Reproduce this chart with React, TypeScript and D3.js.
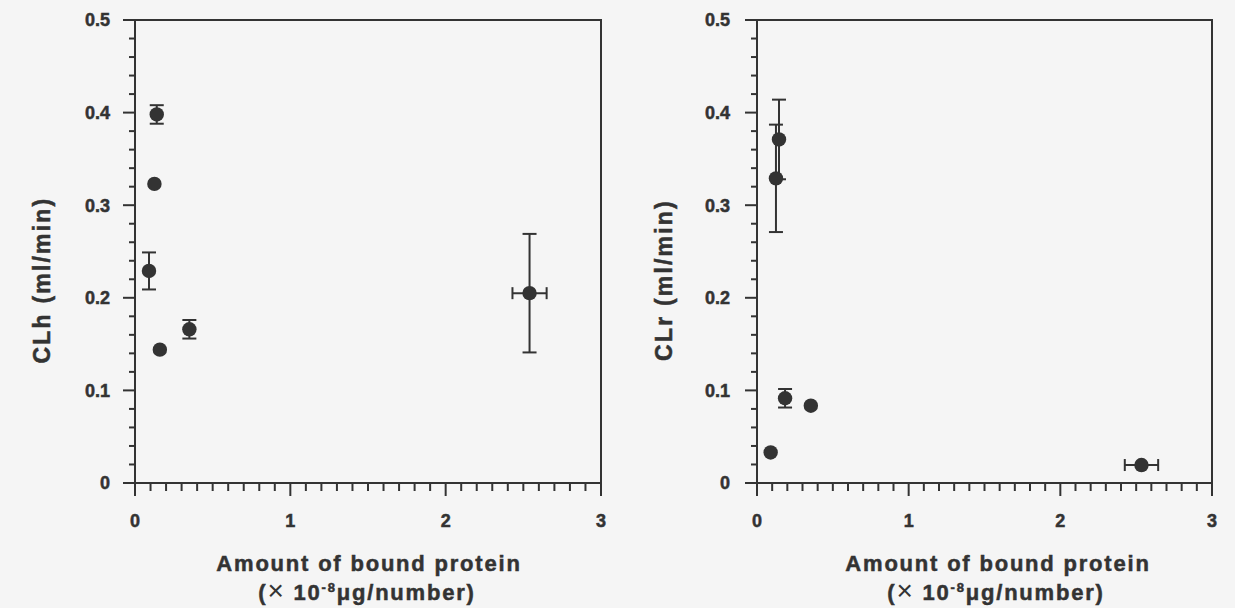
import React from "react";
import * as d3 from "d3";

// ---- Data ----
const xTickLabels = ["0", "1", "2", "3"];
const yTickLabels = ["0", "0.1", "0.2", "0.3", "0.4", "0.5"];

// Left panel: CLh
const hX = [0.14, 0.125, 0.09, 0.16, 0.35, 2.54];
const hY = [0.398, 0.323, 0.229, 0.144, 0.166, 0.205];
const hYErr = [0.01, 0, 0.02, 0, 0.01, 0.064];
const hXErr = [0, 0, 0, 0, 0, 0.11];

// Right panel: CLr
const rX = [0.145, 0.125, 0.185, 0.355, 0.09, 2.535];
const rY = [0.371, 0.329, 0.0915, 0.0835, 0.033, 0.0194];
const rYErr = [0.043, 0.058, 0.01, 0, 0, 0];
const rXErr = [0, 0, 0, 0, 0, 0.11];

const INK = "#333333";
const FONT = "'Liberation Sans', Arial, Helvetica, sans-serif";

type PanelProps = {
  x0: number;
  x1: number;
  y0: number;
  y1: number;
  xs: number[];
  ys: number[];
  yErr: number[];
  xErr: number[];
  yTitle: string;
  yTitleX: number;
  xTitleCx: number;
  labelGap: number;
};

function Panel(p: PanelProps) {
  const xScale = d3.scaleLinear().domain([0, 3]).range([p.x0, p.x1]);
  const yScale = d3.scaleLinear().domain([0, 0.5]).range([p.y1, p.y0]);
  const xMinor = d3.range(0, 31).map((i) => i / 10);
  const yMinor = d3.range(0, 26).map((i) => i / 50);
  const capW = 7;
  const capH = 6;
  const titleMidY = 280;
  const textProps = {
    fontFamily: FONT,
    fontWeight: "bold" as const,
    fill: INK,
    stroke: INK,
    strokeWidth: 0.5,
  };
  return (
    <g>
      {/* frame */}
      <rect
        x={p.x0}
        y={p.y0}
        width={p.x1 - p.x0}
        height={p.y1 - p.y0}
        fill="none"
        stroke={INK}
        strokeWidth={2}
      />
      {/* y ticks */}
      {yMinor.map((v, i) => {
        const major = i % 5 === 0;
        return (
          <line
            key={"ym" + i}
            x1={p.x0 - (major ? 12 : 6)}
            x2={p.x0}
            y1={yScale(v)}
            y2={yScale(v)}
            stroke={INK}
            strokeWidth={2}
          />
        );
      })}
      {/* x ticks */}
      {xMinor.map((v, i) => {
        const major = i % 10 === 0;
        return (
          <line
            key={"xm" + i}
            x1={xScale(v)}
            x2={xScale(v)}
            y1={p.y1}
            y2={p.y1 + (major ? 13 : 8)}
            stroke={INK}
            strokeWidth={2}
          />
        );
      })}
      {/* y tick labels */}
      {yTickLabels.map((t) => (
        <text
          key={"yl" + t}
          x={p.x0 - p.labelGap}
          y={yScale(+t)}
          dy="0.35em"
          textAnchor="end"
          fontSize={18}
          {...textProps}
        >
          {t}
        </text>
      ))}
      {/* x tick labels */}
      {xTickLabels.map((t) => (
        <text
          key={"xl" + t}
          x={xScale(+t)}
          y={521}
          dy="0.35em"
          textAnchor="middle"
          fontSize={18}
          {...textProps}
        >
          {t}
        </text>
      ))}
      {/* y title */}
      <text
        transform={`translate(${p.yTitleX},${titleMidY}) rotate(-90)`}
        textAnchor="middle"
        fontSize={23}
        letterSpacing={2.2}
        {...textProps}
      >
        {p.yTitle}
      </text>
      {/* x title */}
      <text
        x={p.xTitleCx}
        y={571}
        textAnchor="middle"
        fontSize={22}
        letterSpacing={1.8}
        {...textProps}
      >
        Amount of bound protein
      </text>
      <text
        x={p.xTitleCx - 2}
        y={600}
        textAnchor="middle"
        fontSize={22}
        letterSpacing={1.8}
        {...textProps}
      >
        <tspan>(</tspan>
        <tspan fontWeight="normal" strokeWidth={0} fontSize={28}>×</tspan>
        <tspan> 10</tspan>
        <tspan fontSize={13} dy={-8}>-8</tspan>
        <tspan dy={8}>μg/number)</tspan>
      </text>
      {/* error bars */}
      {p.xs.map((xv, i) => {
        const cx = xScale(xv);
        const cy = yScale(p.ys[i]);
        const out: React.ReactNode[] = [];
        if (p.yErr[i] > 0) {
          const yt = yScale(p.ys[i] + p.yErr[i]);
          const yb = yScale(p.ys[i] - p.yErr[i]);
          out.push(
            <line key="v" x1={cx} x2={cx} y1={yt} y2={yb} stroke={INK} strokeWidth={2} />,
            <line key="vt" x1={cx - capW} x2={cx + capW} y1={yt} y2={yt} stroke={INK} strokeWidth={2} />,
            <line key="vb" x1={cx - capW} x2={cx + capW} y1={yb} y2={yb} stroke={INK} strokeWidth={2} />
          );
        }
        if (p.xErr[i] > 0) {
          const xl = xScale(xv - p.xErr[i]);
          const xr = xScale(xv + p.xErr[i]);
          out.push(
            <line key="h" x1={xl} x2={xr} y1={cy} y2={cy} stroke={INK} strokeWidth={2} />,
            <line key="hl" x1={xl} x2={xl} y1={cy - capH} y2={cy + capH} stroke={INK} strokeWidth={2} />,
            <line key="hr" x1={xr} x2={xr} y1={cy - capH} y2={cy + capH} stroke={INK} strokeWidth={2} />
          );
        }
        return <g key={"e" + i}>{out}</g>;
      })}
      {/* markers */}
      {p.xs.map((xv, i) => (
        <circle key={"c" + i} cx={xScale(xv)} cy={yScale(p.ys[i])} r={7.2} fill={INK} />
      ))}
    </g>
  );
}

export default function App() {
  return (
    <svg
      width={1235}
      height={608}
      style={{ position: "absolute", left: 0, top: 0, display: "block" }}
    >
      <rect x={0} y={0} width={1235} height={608} fill="#f5f5f5" />
      <Panel
        x0={135}
        x1={601}
        y0={20}
        y1={483}
        xs={hX}
        ys={hY}
        yErr={hYErr}
        xErr={hXErr}
        yTitle="CLh (ml/min)"
        yTitleX={50}
        xTitleCx={369}
        labelGap={25}
      />
      <Panel
        x0={757}
        x1={1212}
        y0={20}
        y1={483}
        xs={rX}
        ys={rY}
        yErr={rYErr}
        xErr={rXErr}
        yTitle="CLr (ml/min)"
        yTitleX={672}
        xTitleCx={998}
        labelGap={27}
      />
    </svg>
  );
}
